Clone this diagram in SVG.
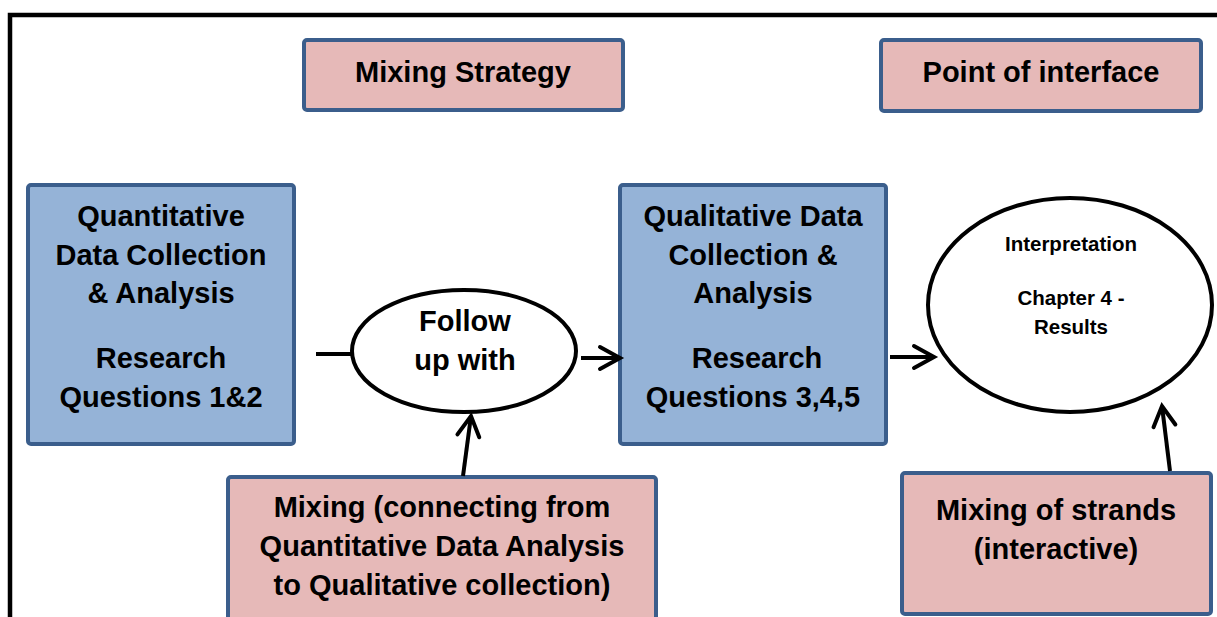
<svg xmlns="http://www.w3.org/2000/svg" width="1217" height="617" viewBox="0 0 1217 617">
<defs>
<style>
.pink{fill:#E6B9B8;stroke:#3B5E8C;stroke-width:4}
.blue{fill:#95B3D7;stroke:#3B5E8C;stroke-width:4}
.ell{fill:#fff;stroke:#000;stroke-width:4}
.t{font-family:"Liberation Sans",Arial,sans-serif;font-weight:bold;font-size:29px;fill:#000;text-anchor:middle}
.s{font-family:"Liberation Sans",Arial,sans-serif;font-weight:bold;font-size:20.5px;fill:#000;text-anchor:middle}
.c{fill:none;stroke:#000;stroke-width:4}
</style>
<marker id="ah" markerUnits="userSpaceOnUse" markerWidth="30" markerHeight="30" viewBox="-24 -15 30 30" refX="0" refY="0" orient="auto">
<path d="M-20,-11 L0,0 L-20,11" fill="none" stroke="#000" stroke-width="4" stroke-linecap="round" stroke-linejoin="miter"/>
</marker>
</defs>
<rect width="1217" height="617" fill="#fff"/>
<path d="M10,617 L10,15 L1217,15" fill="none" stroke="#000" stroke-width="4.5"/>

<g id="mixing-strategy">
<rect class="pink" x="304" y="40" width="319" height="70" rx="3"/>
<text class="t" x="463" y="82">Mixing Strategy</text>
</g>
<g id="point-of-interface">
<rect class="pink" x="881" y="40" width="320" height="71" rx="3"/>
<text class="t" x="1041" y="82">Point of interface</text>
</g>
<g id="quantitative">
<rect class="blue" x="28" y="185" width="266" height="259" rx="3"/>
<text class="t" x="161" y="226">Quantitative</text>
<text class="t" x="161" y="265">Data Collection</text>
<text class="t" x="161" y="303">&amp; Analysis</text>
<text class="t" x="161" y="368">Research</text>
<text class="t" x="161" y="407">Questions 1&amp;2</text>
</g>
<g id="follow-up">
<ellipse class="ell" cx="464" cy="351" rx="112" ry="61"/>
<text class="t" x="465" y="331">Follow</text>
<text class="t" x="465" y="370">up with</text>
</g>
<g id="qualitative">
<rect class="blue" x="620" y="185" width="266" height="259" rx="3"/>
<text class="t" x="753" y="226">Qualitative Data</text>
<text class="t" x="753" y="265">Collection &amp;</text>
<text class="t" x="753" y="303">Analysis</text>
<text class="t" x="757" y="368">Research</text>
<text class="t" x="753" y="407">Questions 3,4,5</text>
</g>
<g id="interpretation">
<ellipse class="ell" cx="1070" cy="305" rx="142" ry="107"/>
<text class="s" x="1071" y="251">Interpretation</text>
<text class="s" x="1071" y="305">Chapter 4 -</text>
<text class="s" x="1071" y="334">Results</text>
</g>
<g id="mixing-connecting">
<rect class="pink" x="228" y="477" width="428" height="160" rx="3"/>
<text class="t" x="442" y="517">Mixing (connecting from</text>
<text class="t" x="442" y="556">Quantitative Data Analysis</text>
<text class="t" x="442" y="595">to Qualitative collection)</text>
</g>
<g id="mixing-strands">
<rect class="pink" x="902" y="473" width="309" height="141" rx="3"/>
<text class="t" x="1056" y="520">Mixing of strands</text>
<text class="t" x="1056" y="559">(interactive)</text>
</g>

<g id="connectors">
<line class="c" x1="316" y1="354" x2="353" y2="354"/>
<line class="c" x1="581" y1="358" x2="620" y2="358" marker-end="url(#ah)"/>
<line class="c" x1="463" y1="476" x2="471" y2="416" marker-end="url(#ah)"/>
<line class="c" x1="890" y1="357" x2="934" y2="357" marker-end="url(#ah)"/>
<line class="c" x1="1170" y1="471" x2="1162" y2="406" marker-end="url(#ah)"/>
</g>
</svg>
